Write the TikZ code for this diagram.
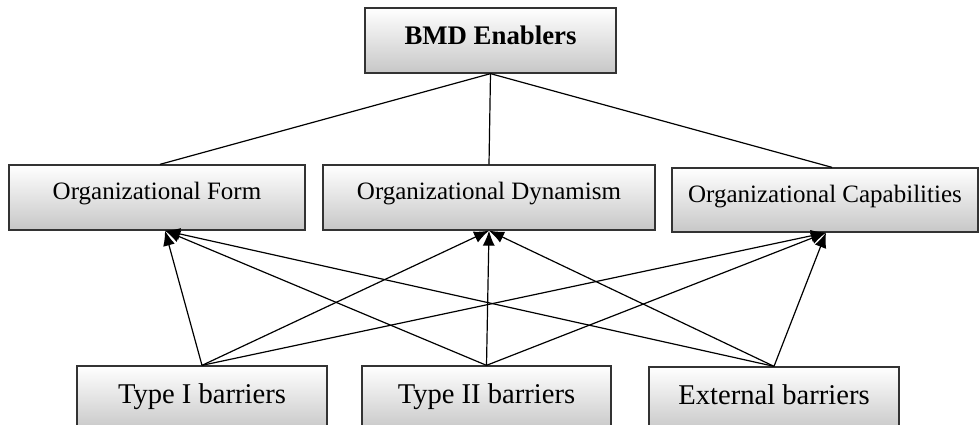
\documentclass[tikz,border=0pt]{standalone}
\usepackage{fontspec}
\setmainfont{Liberation Serif}
\usetikzlibrary{arrows.meta}
\begin{document}
\begin{tikzpicture}[x=1pt,y=-1pt,
  box/.style={draw=black!80, line width=1.3pt, top color=white, middle color=white, bottom color=black!22,
    inner sep=0pt, align=center},
  midfont/.style={font=\fontsize{25}{30}\selectfont, text height=18pt, text depth=13pt},
  botfont/.style={font=\fontsize{28.6}{34}\selectfont, text height=20pt, text depth=10.4pt},
  topfont/.style={font=\fontsize{26.8}{32}\selectfont\bfseries, text height=20pt, text depth=11pt},
  link/.style={line width=1.2pt, draw=black},
  arr/.style={line width=1.2pt, draw=black, -{Latex[length=15pt,width=12pt]}}]
\useasboundingbox (0,0) rectangle (980,425);
\clip (0,0) rectangle (980,425);

\node[box, topfont, minimum width=251pt, minimum height=65pt] (bmd) at (490.5,40.5) {BMD Enablers};

\node[box, midfont, minimum width=296pt, minimum height=65pt] (form) at (157,197.5) {Organizational Form};
\node[box, midfont, minimum width=332pt, minimum height=65pt] (dyn) at (489,197.5) {Organizational Dynamism};
\node[box, midfont, minimum width=306pt, minimum height=64pt] (cap) at (825,200) {Organizational Capabilities};

\node[box, botfont, minimum width=250pt, minimum height=65pt] (t1) at (202,398.5) {Type I barriers};
\node[box, botfont, minimum width=249pt, minimum height=65pt] (t2) at (486.5,398.5) {Type II barriers};
\node[box, botfont, minimum width=250pt, minimum height=65pt] (ext) at (774,399.5) {External barriers};

\draw[link] (bmd.south) -- ([xshift=3pt]form.north);
\draw[link] (bmd.south) -- (dyn.north);
\draw[link] (bmd.south) -- ([xshift=7pt]cap.north);

\foreach \s in {t1,t2,ext}{
  \draw[arr] (\s.north) -- ([xshift=8pt]form.south);
  \draw[arr] (\s.north) -- (dyn.south);
  \draw[arr] (\s.north) -- ([xshift=1pt]cap.south);
}
\end{tikzpicture}
\end{document}
